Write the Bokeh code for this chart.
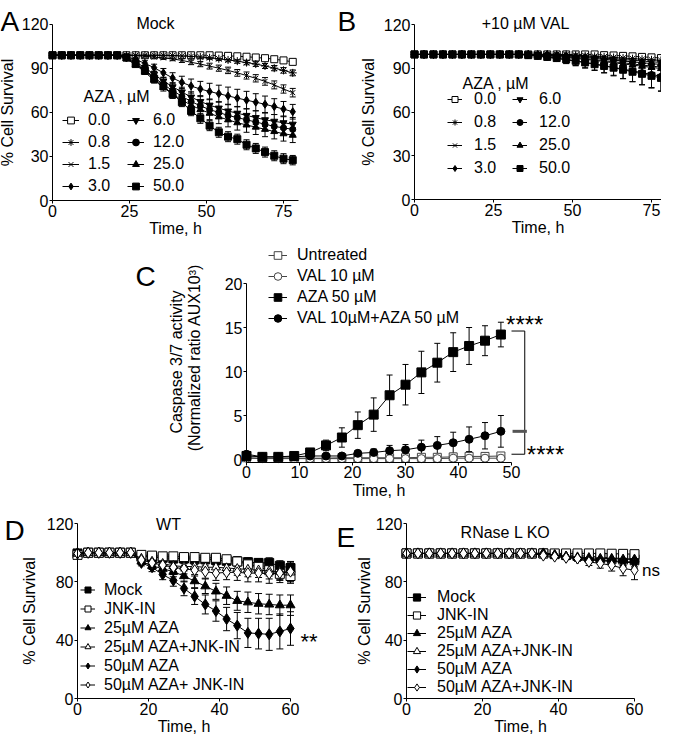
from bokeh.plotting import figure
from bokeh.models import (ColumnDataSource, Whisker, TeeHead, Legend, LegendItem,
                          Label, FixedTicker, LinearAxis, Range1d)
from bokeh.layouts import column, row
from bokeh.embed import file_html
from bokeh.resources import INLINE

FONT = "Liberation Sans"

# ---------------- data ----------------
t_ab = [0, 3, 6, 9, 12, 15, 18, 21, 24, 27, 30, 33, 36, 39, 42, 45, 48, 51, 54, 57, 60, 63, 66, 69, 72, 75, 78]
aza_labels = ["0.0", "0.8", "1.5", "3.0", "6.0", "12.0", "25.0", "50.0"]

# Panel A (Mock)
a_00 = [99, 99, 99, 99, 99, 99, 99, 99, 99, 99, 99, 99, 99, 99, 99, 99, 99, 99, 98.8, 98.6, 98.3, 98.0, 97.5, 97.0, 96.3, 95.5, 94.5]
a_08 = [99, 99, 99, 99, 99, 99, 99, 99, 99, 99, 99, 99, 99, 98.8, 98.5, 98.2, 97.8, 97.3, 96.6, 95.8, 95.0, 94.0, 93.0, 91.7, 90.2, 88.7, 87.0]
a_15 = [99, 99, 99, 99, 99, 99, 99, 99, 99, 98.7, 98.3, 97.8, 97.2, 96.5, 95.5, 94.2, 93.0, 91.6, 90.2, 88.7, 87.0, 85.2, 83.3, 81.2, 78.8, 76.0, 73.5]
a_30 = [99, 99, 99, 99, 99, 99, 99, 99, 98.0, 96.0, 93.5, 90.5, 87.0, 83.5, 80.5, 78.0, 76.0, 74.3, 72.8, 71.3, 69.8, 68.4, 67.0, 65.6, 64.0, 62.3, 60.5]
a_60 = [99, 99, 99, 99, 99, 99, 99, 99, 97.5, 94.5, 90.5, 86.0, 81.5, 77.5, 74.0, 70.5, 67.5, 65.0, 63.0, 61.0, 59.5, 58.0, 56.5, 55.0, 54.0, 53.0, 52.0]
a_120 = [99, 99, 99, 99, 99, 99, 99, 99, 97.0, 93.5, 89.0, 84.0, 79.0, 75.0, 71.0, 67.5, 64.5, 62.0, 60.0, 58.0, 56.5, 55.0, 53.5, 52.0, 50.5, 49.5, 48.5]
a_250 = [99, 99, 99, 99, 99, 99, 99, 99, 96.5, 92.5, 87.5, 82.0, 77.0, 72.5, 68.5, 65.0, 62.0, 59.5, 57.0, 55.0, 53.0, 51.5, 50.0, 48.5, 47.0, 45.5, 44.5]
a_500 = [99, 99, 99, 99, 99, 99, 99, 99, 97.5, 93.0, 88.5, 83.0, 78.0, 72.5, 67.0, 61.0, 56.0, 51.0, 46.5, 43.5, 41.8, 38.0, 35.5, 33.0, 30.5, 28.5, 27.5]

ea_00 = [0.3, 0.3, 0.3, 0.3, 0.3, 0.3, 0.3, 0.3, 0.3, 0.3, 0.3, 0.3, 0.3, 0.3, 0.3, 0.3, 0.3, 0.3, 0.5, 0.6, 0.6, 0.7, 0.8, 0.9, 1.0, 1.0, 1.1]
ea_08 = [0.3, 0.3, 0.3, 0.3, 0.3, 0.3, 0.3, 0.3, 0.3, 0.3, 0.3, 0.3, 0.3, 0.5, 0.6, 0.8, 0.9, 1.0, 1.2, 1.3, 1.4, 1.5, 1.6, 1.7, 1.8, 1.9, 2.0]
ea_15 = [0.3, 0.3, 0.3, 0.3, 0.3, 0.3, 0.3, 0.3, 0.3, 0.5, 0.6, 0.8, 1.0, 1.2, 1.4, 1.6, 1.8, 2.0, 2.1, 2.2, 2.3, 2.4, 2.5, 2.6, 2.7, 2.8, 2.9]
ea_30 = [0.4, 0.4, 0.4, 0.4, 0.4, 0.4, 0.4, 0.4, 0.8, 1.2, 1.8, 2.4, 3.0, 3.6, 4.2, 4.8, 5.2, 5.6, 5.8, 6.0, 6.0, 6.0, 5.8, 5.6, 5.4, 5.2, 5.0]
ea_60 = [0.4, 0.4, 0.4, 0.4, 0.4, 0.4, 0.4, 0.4, 0.8, 1.2, 1.6, 2.0, 2.4, 2.8, 3.2, 3.6, 4.0, 4.2, 4.4, 4.6, 4.6, 4.6, 4.6, 4.6, 4.6, 4.6, 4.6]
ea_120 = [0.4, 0.4, 0.4, 0.4, 0.4, 0.4, 0.4, 0.4, 0.8, 1.2, 1.6, 2.0, 2.4, 2.8, 3.0, 3.2, 3.4, 3.6, 3.8, 4.0, 4.0, 4.0, 4.0, 4.0, 4.0, 4.0, 4.0]
ea_250 = [0.4, 0.4, 0.4, 0.4, 0.4, 0.4, 0.4, 0.4, 0.8, 1.2, 1.6, 2.0, 2.4, 2.8, 3.2, 3.6, 4.0, 4.4, 4.6, 4.8, 5.0, 5.0, 5.0, 5.0, 5.0, 5.0, 5.0]
ea_500 = [0.4, 0.4, 0.4, 0.4, 0.4, 0.4, 0.4, 0.4, 0.8, 1.2, 1.6, 2.0, 2.4, 2.8, 3.0, 3.2, 3.4, 3.4, 3.4, 3.4, 3.4, 3.4, 3.4, 3.4, 3.4, 3.4, 3.2]

# Panel B (+10 uM VAL)
b_00 = [99.5, 99.5, 99.5, 99.5, 99.5, 99.5, 99.5, 99.5, 99.5, 99.5, 99.5, 99.5, 99.5, 99.5, 99.5, 99.5, 99.5, 99.5, 99.5, 99.5, 99.0, 98.8, 98.5, 98.2, 97.8, 97.5, 97.0]
b_08 = [99.5, 99.5, 99.5, 99.5, 99.5, 99.5, 99.5, 99.5, 99.5, 99.5, 99.5, 99.5, 99.5, 99.5, 99.5, 99.5, 99.5, 99.0, 98.6, 98.2, 97.8, 97.4, 97.0, 96.6, 96.2, 95.8, 95.4]
b_15 = [99.5, 99.5, 99.5, 99.5, 99.5, 99.5, 99.5, 99.5, 99.5, 99.5, 99.5, 99.5, 99.5, 99.5, 99.5, 99.5, 99.0, 98.5, 98.0, 97.5, 97.0, 96.5, 96.0, 95.5, 95.0, 94.5, 94.0]
b_30 = [99.5, 99.5, 99.5, 99.5, 99.5, 99.5, 99.5, 99.5, 99.5, 99.5, 99.5, 99.5, 99.5, 99.5, 99.5, 99.0, 98.5, 98.0, 97.4, 96.8, 96.2, 95.6, 95.0, 94.4, 93.8, 93.2, 92.6]
b_60 = [99.5, 99.5, 99.5, 99.5, 99.5, 99.5, 99.5, 99.5, 99.5, 99.5, 99.5, 99.5, 99.5, 99.5, 99.0, 98.5, 98.0, 97.3, 96.6, 95.9, 95.2, 94.5, 93.8, 93.0, 92.2, 91.5, 90.8]
b_120 = [99.5, 99.5, 99.5, 99.5, 99.5, 99.5, 99.5, 99.5, 99.5, 99.5, 99.5, 99.5, 99.0, 98.3, 97.5, 96.7, 95.8, 94.9, 93.9, 92.9, 91.8, 90.6, 89.4, 88.2, 87.0, 85.8, 84.5]
b_250 = [99.5, 99.5, 99.5, 99.5, 99.5, 99.5, 99.5, 99.5, 99.5, 99.5, 99.5, 99.5, 99.5, 99.0, 98.5, 98.0, 97.4, 96.8, 96.1, 95.4, 94.6, 93.8, 93.0, 92.2, 91.4, 90.6, 89.8]
b_500 = [99.5, 99.5, 99.5, 99.5, 99.5, 99.5, 99.5, 99.5, 99.5, 99.5, 99.5, 99.5, 99.0, 98.5, 97.8, 97.0, 96.1, 95.1, 94.0, 92.8, 91.6, 90.4, 89.0, 87.6, 86.2, 84.8, 83.4]

eb_00 = [0.3, 0.3, 0.3, 0.3, 0.3, 0.3, 0.3, 0.3, 0.3, 0.3, 0.3, 0.3, 0.3, 0.3, 0.3, 0.3, 0.3, 0.3, 0.3, 0.3, 0.5, 0.6, 0.7, 0.8, 0.9, 1.0, 1.0]
eb_08 = [0.3, 0.3, 0.3, 0.3, 0.3, 0.3, 0.3, 0.3, 0.3, 0.3, 0.3, 0.3, 0.3, 0.3, 0.3, 0.3, 0.3, 0.5, 0.7, 0.9, 1.1, 1.3, 1.5, 1.7, 1.9, 2.1, 2.3]
eb_15 = [0.3, 0.3, 0.3, 0.3, 0.3, 0.3, 0.3, 0.3, 0.3, 0.3, 0.3, 0.3, 0.3, 0.3, 0.3, 0.3, 0.5, 0.7, 0.9, 1.1, 1.3, 1.5, 1.7, 1.9, 2.1, 2.3, 2.5]
eb_30 = [0.3, 0.3, 0.3, 0.3, 0.3, 0.3, 0.3, 0.3, 0.3, 0.3, 0.3, 0.3, 0.3, 0.3, 0.3, 0.6, 0.9, 1.2, 1.5, 1.8, 2.1, 2.4, 2.7, 3.0, 3.3, 3.6, 3.9]
eb_60 = [0.3, 0.3, 0.3, 0.3, 0.3, 0.3, 0.3, 0.3, 0.3, 0.3, 0.3, 0.3, 0.3, 0.3, 0.6, 0.9, 1.2, 1.6, 2.0, 2.4, 2.8, 3.2, 3.6, 4.0, 4.4, 4.8, 5.2]
eb_120 = [0.4, 0.4, 0.4, 0.4, 0.4, 0.4, 0.4, 0.4, 0.4, 0.4, 0.4, 0.4, 0.8, 1.2, 1.6, 2.0, 2.6, 3.2, 3.8, 4.4, 5.0, 5.8, 6.6, 7.4, 8.2, 9.0, 10.0]
eb_250 = [0.3, 0.3, 0.3, 0.3, 0.3, 0.3, 0.3, 0.3, 0.3, 0.3, 0.3, 0.3, 0.3, 0.6, 1.0, 1.4, 1.8, 2.2, 2.6, 3.0, 3.4, 3.8, 4.2, 4.6, 5.0, 5.4, 5.8]
eb_500 = [0.4, 0.4, 0.4, 0.4, 0.4, 0.4, 0.4, 0.4, 0.4, 0.4, 0.4, 0.4, 0.8, 1.2, 1.6, 2.0, 2.6, 3.2, 3.6, 4.0, 4.6, 5.2, 6.0, 6.8, 7.6, 8.4, 9.2]

# Panel C (caspase 3/7)
t_c = [0, 3, 6, 9, 12, 15, 18, 21, 24, 27, 30, 33, 36, 39, 42, 45, 48]
c_untreated = [0.2, 0.15, 0.15, 0.15, 0.15, 0.15, 0.2, 0.2, 0.2, 0.2, 0.2, 0.25, 0.25, 0.3, 0.35, 0.35, 0.4]
c_val = [0.15, 0.1, 0.1, 0.1, 0.1, 0.1, 0.1, 0.1, 0.1, 0.1, 0.1, 0.1, 0.1, 0.15, 0.15, 0.15, 0.15]
c_aza = [0.4, 0.3, 0.3, 0.4, 0.8, 1.6, 2.5, 3.9, 5.1, 7.3, 8.5, 9.9, 11.0, 12.2, 12.9, 13.5, 14.2]
c_valaza = [0.6, 0.3, 0.3, 0.3, 0.4, 0.4, 0.4, 0.7, 0.8, 1.0, 1.1, 1.4, 1.6, 1.9, 2.3, 2.7, 3.2]
ec_untreated = [0.1, 0.1, 0.1, 0.1, 0.1, 0.1, 0.1, 0.1, 0.1, 0.1, 0.1, 0.1, 0.1, 0.2, 0.25, 0.3, 0.3]
ec_val = [0.1, 0.1, 0.1, 0.1, 0.1, 0.1, 0.1, 0.1, 0.1, 0.1, 0.1, 0.1, 0.1, 0.1, 0.1, 0.1, 0.1]
ec_aza = [0.2, 0.1, 0.1, 0.2, 0.3, 0.6, 1.1, 1.5, 1.9, 2.3, 2.3, 2.4, 2.2, 2.2, 2.1, 1.7, 1.4]
ec_valaza = [0.2, 0.1, 0.1, 0.1, 0.1, 0.2, 0.2, 0.3, 0.4, 0.6, 0.6, 0.8, 1.0, 1.2, 1.4, 1.5, 1.8]
c_labels = ["Untreated", "VAL 10 µM", "AZA 50 µM", "VAL 10µM+AZA 50 µM"]

# Panels D (WT) and E (RNase L KO)
t_de = [0, 3, 6, 9, 12, 15, 18, 21, 24, 27, 30, 33, 36, 39, 42, 45, 48, 51, 54, 57, 60]
d_labels = ["Mock", "JNK-IN", "25µM AZA", "25µM AZA+JNK-IN", "50µM AZA", "50µM AZA+ JNK-IN"]
e_labels = ["Mock", "JNK-IN", "25µM AZA", "25µM AZA+JNK-IN", "50µM AZA", "50µM AZA+JNK-IN"]

d_mock = [99.5, 100, 100, 100, 100, 100, 97.5, 97.0, 96.5, 96.0, 96.0, 95.5, 95.5, 95.0, 94.5, 94.0, 93.5, 93.0, 93.0, 91.0, 89.5]
d_jnk = [98.5, 100, 100, 100, 100, 100, 98.5, 98.0, 97.5, 97.5, 97.0, 97.0, 96.5, 96.5, 95.5, 94.0, 92.0, 90.3, 88.0, 85.5, 84.0]
d_25 = [99.5, 100, 100, 100, 100, 100, 94.0, 91.0, 89.0, 87.0, 84.0, 80.5, 77.0, 73.5, 70.5, 67.0, 66.0, 65.0, 64.5, 64.0, 64.0]
d_25j = [99.5, 100, 100, 100, 100, 100, 96.0, 94.0, 92.5, 91.0, 90.5, 90.5, 90.0, 90.0, 89.5, 89.0, 88.5, 88.0, 87.5, 87.0, 86.5]
d_50 = [99.5, 100, 100, 100, 100, 100, 93.0, 90.0, 85.0, 81.0, 75.5, 70.0, 64.5, 60.0, 54.5, 50.0, 45.0, 44.5, 44.0, 46.0, 48.0]
d_50j = [99.5, 100, 100, 100, 100, 100, 95.0, 93.0, 91.5, 90.0, 89.0, 88.0, 87.0, 86.0, 86.5, 86.5, 86.0, 86.0, 85.5, 86.0, 87.0]
ed_mock = [0.5, 0.5, 0.5, 0.5, 0.5, 0.5, 1.0, 1.0, 1.5, 1.5, 2.0, 2.0, 2.0, 2.5, 2.5, 3.0, 3.0, 3.0, 3.5, 3.5, 4.0]
ed_jnk = [1.0, 0.5, 0.5, 0.5, 0.5, 0.5, 1.0, 1.0, 1.5, 1.5, 2.0, 2.0, 2.0, 2.5, 2.5, 3.0, 3.0, 3.5, 4.0, 4.5, 5.0]
ed_25 = [0.5, 0.5, 0.5, 0.5, 0.5, 0.5, 2.0, 2.5, 3.0, 3.5, 4.0, 4.5, 5.0, 5.5, 6.0, 6.5, 7.0, 7.0, 7.0, 7.0, 7.0]
ed_25j = [0.5, 0.5, 0.5, 0.5, 0.5, 0.5, 1.5, 2.0, 2.0, 2.5, 3.0, 3.0, 3.5, 4.0, 4.0, 4.5, 5.0, 5.0, 5.5, 5.5, 6.0]
ed_50 = [0.5, 0.5, 0.5, 0.5, 0.5, 0.5, 2.0, 3.0, 3.5, 4.0, 5.0, 5.5, 6.5, 7.0, 8.0, 9.0, 10.0, 10.5, 11.0, 12.0, 11.5]
ed_50j = [0.5, 0.5, 0.5, 0.5, 0.5, 0.5, 1.5, 2.0, 2.5, 3.0, 3.5, 4.0, 4.5, 5.0, 5.0, 5.5, 6.0, 6.0, 6.5, 6.5, 7.0]

e_mock = [99.5, 99.5, 99.5, 99.5, 99.5, 99.5, 99.5, 99.5, 99.5, 99.5, 99.5, 99.5, 99.5, 99.0, 98.5, 98.0, 97.5, 97.0, 96.5, 96.0, 95.5]
e_jnk = [99.5, 99.5, 99.5, 99.5, 99.5, 99.5, 99.5, 99.5, 99.5, 99.5, 99.5, 99.5, 99.5, 99.5, 99.5, 99.5, 99.5, 99.5, 99.3, 99.2, 99.0]
e_25 = [99.5, 99.5, 99.5, 99.5, 99.5, 99.5, 99.5, 99.5, 99.5, 99.5, 99.5, 99.5, 99.5, 98.5, 97.5, 97.0, 96.5, 96.0, 96.0, 95.5, 95.5]
e_25j = [99.5, 99.5, 99.5, 99.5, 99.5, 99.5, 99.5, 99.5, 99.5, 99.5, 99.5, 99.5, 99.5, 98.5, 97.5, 96.5, 95.5, 95.0, 94.5, 94.0, 93.5]
e_50 = [99.5, 99.5, 99.5, 99.5, 99.5, 99.5, 99.5, 99.5, 99.5, 99.5, 99.5, 99.5, 99.5, 98.0, 97.0, 96.0, 95.0, 94.5, 94.0, 93.5, 93.0]
e_50j = [99.5, 99.5, 99.5, 99.5, 99.5, 99.5, 99.5, 99.5, 99.5, 99.5, 99.5, 99.5, 98.0, 97.3, 96.5, 96.0, 93.7, 92.6, 91.4, 89.2, 88.0]
ee_mock = [0.3, 0.3, 0.3, 0.3, 0.3, 0.3, 0.3, 0.3, 0.3, 0.3, 0.3, 0.3, 0.3, 0.6, 0.8, 1.0, 1.2, 1.4, 1.6, 1.8, 2.0]
ee_jnk = [0.3, 0.3, 0.3, 0.3, 0.3, 0.3, 0.3, 0.3, 0.3, 0.3, 0.3, 0.3, 0.3, 0.4, 0.4, 0.5, 0.5, 0.6, 0.6, 0.7, 0.7]
ee_25 = [0.3, 0.3, 0.3, 0.3, 0.3, 0.3, 0.3, 0.3, 0.3, 0.3, 0.3, 0.3, 0.3, 0.8, 1.0, 1.2, 1.5, 1.8, 2.0, 2.2, 2.5]
ee_25j = [0.3, 0.3, 0.3, 0.3, 0.3, 0.3, 0.3, 0.3, 0.3, 0.3, 0.3, 0.3, 0.3, 0.8, 1.0, 1.3, 1.6, 2.0, 2.4, 2.8, 3.2]
ee_50 = [0.3, 0.3, 0.3, 0.3, 0.3, 0.3, 0.3, 0.3, 0.3, 0.3, 0.3, 0.3, 0.3, 1.0, 1.3, 1.6, 2.0, 2.4, 2.8, 3.2, 3.6]
ee_50j = [0.3, 0.3, 0.3, 0.3, 0.3, 0.3, 0.3, 0.3, 0.3, 0.3, 0.3, 0.3, 0.8, 1.0, 1.3, 1.8, 2.5, 3.2, 4.0, 5.0, 6.5]

# ticks
x_ticks_ab = [0, 25, 50, 75]
y_ticks_ab = [0, 30, 60, 90, 120]
x_ticks_c = [0, 10, 20, 30, 40, 50]
y_ticks_c = [0, 5, 10, 15, 20]
x_ticks_de = [0, 20, 40, 60]
y_ticks_de = [0, 40, 80, 120]

# ---------------- layout geometry (page pixels) ----------------
# left, top, width, height of each figure; page position of the data origin; px per unit; vertical shift
GEO = {
    "A": dict(left=8, top=8, w=308, h=240, x0=60, y0=208, sx=3.08, sy=1.467, dx=0, dy=0),
    "B": dict(left=316, top=8, w=353, h=240, x0=422, y0=207, sx=3.16, sy=1.458, dx=0, dy=0),
    "C": dict(left=8, top=248, w=661, h=262, x0=254, y0=467, sx=5.3, sy=8.8, dx=0, dy=0),
    "D": dict(left=8, top=510, w=330, h=236, x0=85, y0=706, sx=3.55, sy=1.458, dx=0, dy=-7),
    "E": dict(left=338, top=510, w=331, h=236, x0=414, y0=706, sx=3.8, sy=1.458, dx=-3, dy=-2),
}


# ---------------- helpers ----------------
def make_fig(g):
    xr = ((g["left"] - g["x0"]) / g["sx"], (g["left"] + g["w"] - g["x0"]) / g["sx"])
    yr = ((g["y0"] - (g["top"] + g["h"])) / g["sy"], (g["y0"] - g["top"]) / g["sy"])
    p = figure(width=g["w"], height=g["h"], x_range=Range1d(*xr), y_range=Range1d(*yr),
               output_backend="svg", toolbar_location=None, min_border=0,
               min_border_left=0, min_border_right=0, min_border_top=0, min_border_bottom=0)
    p.outline_line_color = None
    p.xgrid.visible = False
    p.ygrid.visible = False
    p.background_fill_color = "white"
    p.border_fill_color = "white"
    return p


def sc(g, px, py):
    """reference page position -> screen position inside the figure"""
    return px + g["dx"] - g["left"], g["top"] + g["h"] - (py + g["dy"])


def style_axis(ax, ticks, bounds, label, standoff, loc=0):
    ax.fixed_location = loc
    ax.ticker = FixedTicker(ticks=ticks)
    ax.bounds = bounds
    ax.axis_label = label
    ax.axis_label_text_font = FONT
    ax.axis_label_text_font_size = "16px"
    ax.axis_label_text_font_style = "normal"
    ax.axis_label_text_color = "black"
    ax.axis_label_standoff = standoff
    ax.major_label_text_font = FONT
    ax.major_label_text_font_size = "16px"
    ax.major_label_text_color = "black"
    ax.major_label_standoff = 1
    ax.major_tick_out = 3
    ax.major_tick_in = 0
    ax.minor_tick_out = 0
    ax.minor_tick_in = 0
    ax.axis_line_color = "black"
    ax.major_tick_line_color = "black"


def label_axis(p, text, standoff, bounds):
    ax = LinearAxis(axis_label=text, ticker=FixedTicker(ticks=[]), fixed_location=0, bounds=bounds,
                    axis_line_color=None, major_tick_out=0, major_tick_in=0,
                    minor_tick_out=0, minor_tick_in=0, major_label_text_font_size="0px",
                    major_label_standoff=0, axis_label_standoff=standoff,
                    axis_label_text_font=FONT, axis_label_text_font_size="16px",
                    axis_label_text_font_style="normal", axis_label_text_color="black")
    p.add_layout(ax, "left")


def add_series(p, x, y, err, marker, size, fill, color="black", mode="both", cap=6, lw=1):
    lo = [v - e for v, e in zip(y, err)]
    hi = [v + e for v, e in zip(y, err)] if mode == "both" else list(y)
    src = ColumnDataSource(dict(x=x, y=y, lo=lo, hi=hi))
    w = Whisker(source=src, base="x", lower="lo", upper="hi", line_color=color, line_width=1,
                lower_head=TeeHead(size=cap, line_color=color, line_width=1),
                upper_head=TeeHead(size=cap, line_color=color, line_width=1) if mode == "both" else None)
    p.add_layout(w)
    rl = p.line("x", "y", source=src, line_color=color, line_width=lw)
    rs = p.scatter("x", "y", source=src, marker=marker, size=size,
                   fill_color=fill, line_color=color, line_width=1)
    return [rl, rs]


def make_legend(g, items, glyph_left, bottom, gw, gh, standoff, spacing):
    loc = sc(g, glyph_left, bottom)
    return Legend(items=items, location=loc, orientation="vertical",
                  glyph_width=gw, glyph_height=gh, label_height=gh, label_width=10,
                  label_standoff=standoff, spacing=spacing, padding=0, margin=0,
                  border_line_color=None, background_fill_alpha=0,
                  label_text_font=FONT, label_text_font_size="16px", label_text_color="black")


def page_label(p, g, px, py, text, size="16px", align="center", baseline="middle"):
    x, y = sc(g, px, py)
    p.add_layout(Label(x=x, y=y, x_units="screen", y_units="screen", text=text,
                       text_font=FONT, text_font_size=size, text_font_style="normal",
                       text_align=align, text_baseline=baseline, text_color="black"))


aza_markers = [("square", 7, "white"), ("asterisk", 8, "black"), ("x", 7, "black"),
               ("diamond", 8, "black"), ("inverted_triangle", 7, "black"),
               ("circle", 6, "black"), ("triangle", 7, "black"), ("square", 7, "black")]


def survival_panel(key, series, errs, mode, title, title_xy, letter_xy, head_xy,
                   leg_cols, leg_bottom, gw, standoff, spacing, ystand):
    g = GEO[key]
    p = make_fig(g)
    style_axis(p.xaxis[0], x_ticks_ab, (0, 80), "Time, h", 0)
    style_axis(p.yaxis[0], y_ticks_ab, (0, 120), "% Cell Survival", ystand)
    items = []
    for lab, ys, es, (mk, sz, fc) in zip(aza_labels, series, errs, aza_markers):
        rs = add_series(p, t_ab, ys, es, mk, sz, fc, mode=mode, cap=6)
        items.append(LegendItem(label=lab, renderers=rs))
    p.add_layout(make_legend(g, items[:4], leg_cols[0], leg_bottom, gw, 20, standoff, spacing))
    p.add_layout(make_legend(g, items[4:], leg_cols[1], leg_bottom, gw, 20, standoff, spacing))
    page_label(p, g, head_xy[0], head_xy[1], "AZA , µM", align="left")
    page_label(p, g, title_xy[0], title_xy[1], title)
    page_label(p, g, letter_xy[0], letter_xy[1], key, size="28px", align="left", baseline="alphabetic")
    return p


# ---------------- panel A ----------------
pA = survival_panel("A", [a_00, a_08, a_15, a_30, a_60, a_120, a_250, a_500],
                    [ea_00, ea_08, ea_15, ea_30, ea_60, ea_120, ea_250, ea_500], "both",
                    "Mock", (163, 31), (8, 29), (91, 104), (70, 135), 204, 17, 9, 2, 3)

# ---------------- panel B ----------------
pB = survival_panel("B", [b_00, b_08, b_15, b_30, b_60, b_120, b_250, b_500],
                    [eb_00, eb_08, eb_15, eb_30, eb_60, eb_120, eb_250, eb_500], "lower",
                    "+10 µM VAL", (533, 31), (345, 29), (470, 91), (455, 520), 186, 15, 12, 3, 4)

# ---------------- panel C ----------------
gC = GEO["C"]
pC = make_fig(gC)
style_axis(pC.xaxis[0], x_ticks_c, (0, 50), "Time, h", 0, loc=-0.3)
style_axis(pC.yaxis[0], y_ticks_c, (-0.3, 20), None, 0)
label_axis(pC, "(Normalized ratio AUX10³)", 44, (3.2, 20))
label_axis(pC, "Caspase 3/7 activity", 62, (2.2, 20))
c_series = [(c_untreated, ec_untreated, "square", 8, "white", "#444444"),
            (c_val, ec_val, "circle", 8, "white", "#444444"),
            (c_aza, ec_aza, "square", 9, "black", "black"),
            (c_valaza, ec_valaza, "circle", 8, "black", "black")]
c_items = []
for lab, (ys, es, mk, sz, fc, col) in zip(c_labels, c_series):
    rs = add_series(pC, t_c, ys, es, mk, sz, fc, color=col, cap=6)
    c_items.append(LegendItem(label=lab, renderers=rs))
pC.add_layout(make_legend(gC, c_items, 276, 336, 19, 20, 10, 1))
page_label(pC, gC, 143, 284, "C", size="28px", align="left", baseline="alphabetic")

# significance bracket built from the last values
bx0 = t_c[-1] + 2.0
bx1 = t_c[-1] + 4.5
y_top = c_aza[-1] + 0.4
y_mid = c_valaza[-1]
y_bot = max(c_untreated[-1], c_val[-1]) + 0.2
pC.line([bx0, bx1, bx1, bx0], [y_top, y_top, y_bot, y_bot], line_color="black", line_width=1)
pC.line([bx0 + 0.2, bx1 + 0.4], [y_mid, y_mid], line_color="#555555", line_width=3)
pC.add_layout(Label(x=bx1, y=y_top + 0.7, text="****", text_font=FONT, text_font_size="24px",
                    text_align="center", text_baseline="alphabetic", text_color="black"))
pC.add_layout(Label(x=bx1 + 0.4, y=(y_mid + y_bot) / 2 - 1.3, text="****", text_font=FONT,
                    text_font_size="24px", text_align="left", text_baseline="alphabetic",
                    text_color="black"))

# ---------------- panels D / E ----------------
de_markers = [("square", 9, "black"), ("square", 9, "white"), ("triangle", 9, "black"),
              ("triangle", 9, "white"), ("diamond", 11, "black"), ("diamond", 11, "white")]


def de_panel(key, series, errs, labels, title, title_xy, letter_xy, ystand,
             leg_left, leg_bottom, gw, gh, standoff):
    g = GEO[key]
    p = make_fig(g)
    style_axis(p.xaxis[0], x_ticks_de, (0, 60), "Time, h", 0)
    style_axis(p.yaxis[0], y_ticks_de, (0, 120), "% Cell Survival", ystand)
    items = []
    for lab, ys, es, (mk, sz, fc) in zip(labels, series, errs, de_markers):
        rs = add_series(p, t_de, ys, es, mk, sz, fc, cap=7)
        items.append(LegendItem(label=lab, renderers=rs))
    p.add_layout(make_legend(g, items, leg_left, leg_bottom, gw, gh, standoff, 0))
    page_label(p, g, title_xy[0], title_xy[1], title)
    page_label(p, g, letter_xy[0], letter_xy[1], key, size="28px", align="left", baseline="alphabetic")
    return p


pD = de_panel("D", [d_mock, d_jnk, d_25, d_25j, d_50, d_50j],
              [ed_mock, ed_jnk, ed_25, ed_25j, ed_50, ed_50j], d_labels,
              "WT", (176, 539), (12, 545), 6, 88, 709, 15, 19, 9)
pD.add_layout(Label(x=t_de[-1] + 2.8, y=d_50[-1] - 8.6, text="**", text_font=FONT,
                    text_font_size="22px", text_align="left", text_baseline="alphabetic",
                    text_color="black"))

pE = de_panel("E", [e_mock, e_jnk, e_25, e_25j, e_50, e_50j],
              [ee_mock, ee_jnk, ee_25, ee_25j, ee_50, ee_50j], e_labels,
              "RNase L KO", (516, 542), (347, 547), 0, 418, 706, 19, 18, 11)
pE.add_layout(Label(x=t_de[-1] + 2.0, y=e_50j[-1], text="ns", text_font=FONT,
                    text_font_size="17px", text_align="left", text_baseline="middle",
                    text_color="black"))

layout = column(row(pA, pB), pC, row(pD, pE))
open("out.html", "w").write(file_html(layout, INLINE))
